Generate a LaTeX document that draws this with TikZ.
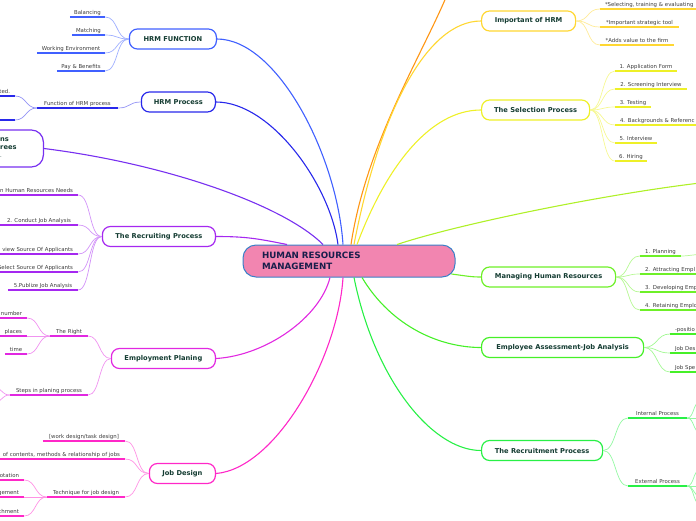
\documentclass[tikz,border=0pt]{standalone}
\usepackage{fontspec}
\setmainfont{DejaVu Sans}
\usetikzlibrary{calc}
\definecolor{rootfill}{RGB}{242,133,176}
\definecolor{rootline}{RGB}{58,128,200}
\definecolor{roottext}{RGB}{25,30,75}
\definecolor{topictext}{RGB}{20,60,50}
\definecolor{leaftext}{RGB}{60,60,60}
\definecolor{bfun}{RGB}{64,96,255}
\definecolor{bpro}{RGB}{40,40,235}
\definecolor{bvio}{RGB}{120,48,240}
\definecolor{bpur}{RGB}{165,40,240}
\definecolor{bmag}{RGB}{225,40,225}
\definecolor{bpnk}{RGB}{255,40,200}
\definecolor{bora}{RGB}{255,150,20}
\definecolor{bgld}{RGB}{255,215,50}
\definecolor{byel}{RGB}{238,240,40}
\definecolor{blim}{RGB}{175,240,40}
\definecolor{bgrn}{RGB}{110,240,40}
\definecolor{bgra}{RGB}{70,240,40}
\definecolor{bgrc}{RGB}{40,240,70}
\newcommand{\leaffont}{\fontsize{5.4}{6.5}\selectfont}
\newcommand{\topicfont}{\fontsize{6.7}{8}\selectfont\bfseries}
\newcommand{\rootfont}{\fontsize{8.7}{11}\selectfont\bfseries}
\tikzset{
rootbox/.style={draw=rootline,fill=rootfill,line width=1pt,rounded corners=13pt,
minimum width=212pt,minimum height=32pt,text width=174pt,inner xsep=19pt,inner ysep=0pt,
align=left,font=\rootfont,text=roottext},
topic/.style={draw=#1,fill=white,line width=1.2pt,rounded corners=8pt,minimum height=20pt,
inner sep=0pt,font=\topicfont,text=topictext},
leaf/.style={anchor=south,inner xsep=0pt,inner ysep=1.5pt,text height=4pt,text depth=1.3pt,
font=\leaffont,text=leaftext},
cutl/.style={align=left,inner xsep=5pt},
cutr/.style={align=right,inner xsep=5pt},
link/.style={draw=#1,line width=1.1pt},
ul/.style={draw=#1,line width=1.6pt},
twig/.style={draw=#1!50!white,line width=0.7pt}
}

\begin{document}
\begin{tikzpicture}[x=1pt,y=-1pt]
\useasboundingbox (0,0) rectangle (696,520);
\clip (0,0) rectangle (696,520);

% centre
\node[rootbox] (hrm) at (349,261) {HUMAN RESOURCES\\MANAGEMENT};
\coordinate (pFun) at ([xshift=-6pt]hrm.north);
\coordinate (pPro) at ([xshift=-11pt]hrm.north);
\coordinate (pBnd) at ([xshift=-26pt]hrm.north);
\coordinate (pRec) at ([xshift=-62pt]hrm.north);
\coordinate (pOra) at ([xshift=2pt]hrm.north);
\coordinate (pImp) at ([xshift=5pt]hrm.north);
\coordinate (pSel) at ([xshift=8pt]hrm.north);
\coordinate (pLim) at ([xshift=48pt]hrm.north);
\coordinate (pMan) at ([xshift=-4pt,yshift=-13pt]hrm.east);
\coordinate (pEmp) at ([xshift=-19pt]hrm.south);
\coordinate (pJob) at ([xshift=-6pt]hrm.south);
\coordinate (pRcm) at ([xshift=5pt]hrm.south);
\coordinate (pAss) at ([xshift=13pt]hrm.south);
\coordinate (offO) at (447,-5);
\coordinate (offL) at (700,183);

% main topics
\node[topic=bfun,minimum width=87pt,anchor=east] (fun) at (217,39) {HRM FUNCTION};
\node[topic=bpro,minimum width=74pt,anchor=east] (pro) at (216,102) {HRM Process};
\node[topic=bvio,minimum width=90pt,minimum height=37pt,rounded corners=12pt,anchor=east] (bnd) at (44,148.5) {};
\node[anchor=west,align=left,inner sep=0pt,font=\topicfont,text=topictext] (bndtxt) at (0,148) {ns\\rees\\{\leaffont\mdseries .}};
\node[topic=bpur,minimum width=113pt,anchor=east] (rec) at (216,236.5) {The Recruiting Process};
\node[topic=bmag,minimum width=104pt,anchor=east] (emp) at (216,358.5) {Employment Planing};
\node[topic=bpnk,minimum width=66pt,anchor=east] (job) at (216,473.5) {Job Design};
\node[topic=bgld,minimum width=94pt,anchor=west] (imp) at (481,21) {Important of HRM};
\node[topic=byel,minimum width=108pt,anchor=west] (sel) at (481,110) {The Selection Process};
\node[topic=bgrn,minimum width=134pt,anchor=west] (man) at (481,277) {Managing Human Resources};
\node[topic=bgra,minimum width=162pt,anchor=west] (ass) at (481,347.5) {Employee Assessment-Job Analysis};
\node[topic=bgrc,minimum width=121pt,anchor=west] (rcm) at (481,450.5) {The Recruitment Process};

% links to the centre
\draw[link=bfun] (fun.east) .. controls ($(fun.east)+(60,0)$) and ($(pFun)+(-6,-90)$) .. (pFun);
\draw[link=bpro] (pro.east) .. controls ($(pro.east)+(55,0)$) and ($(pPro)+(-8,-60)$) .. (pPro);
\draw[link=bvio] (bnd.east) .. controls ($(bnd.east)+(120,15)$) and ($(pBnd)+(-40,-40)$) .. (pBnd);
\draw[link=bpur] (rec.east) .. controls ($(rec.east)+(30,0)$) and ($(pRec)+(-30,-6)$) .. (pRec);
\draw[link=bmag] (emp.east) .. controls ($(emp.east)+(50,-3)$) and ($(pEmp)+(-10,40)$) .. (pEmp);
\draw[link=bpnk] (job.east) .. controls ($(job.east)+(60,-5)$) and ($(pJob)+(-5,80)$) .. (pJob);
\draw[link=bora] (pOra) .. controls ($(pOra)+(15,-100)$) and ($(offO)+(-25,60)$) .. (offO);
\draw[link=bgld] (pImp) .. controls ($(pImp)+(25,-130)$) and ($(imp.west)+(-55,0)$) .. (imp.west);
\draw[link=byel] (pSel) .. controls ($(pSel)+(30,-80)$) and ($(sel.west)+(-50,0)$) .. (sel.west);
\draw[link=blim] (pLim) .. controls ($(pLim)+(60,-20)$) and ($(offL)+(-100,12)$) .. (offL);
\draw[link=bgrn] (pMan) .. controls ($(pMan)+(15,2)$) and ($(man.west)+(-10,0)$) .. (man.west);
\draw[link=bgra] (pAss) .. controls ($(pAss)+(30,50)$) and ($(ass.west)+(-40,0)$) .. (ass.west);
\draw[link=bgrc] (pRcm) .. controls ($(pRcm)+(20,100)$) and ($(rcm.west)+(-50,0)$) .. (rcm.west);

% left leaves
\node[leaf,minimum width=35pt] (bal) at (87.5,17) {Balancing};
\node[leaf,minimum width=33pt] (mat) at (88.5,35) {Matching};
\node[leaf,minimum width=68pt] (wor) at (71,53) {Working Environment};
\node[leaf,minimum width=48pt] (pay) at (81,71) {Pay \& Benefits};
\node[leaf,minimum width=81pt] (fhp) at (77.5,108) {Function of HRM process};
\node[leaf,cutr,text width=45pt] (ted) at (-12.5,96) {ted.};
\node[leaf,minimum width=55pt] (tdx) at (-12.5,120) {};
\node[leaf,cutr,text width=128pt] (rc1) at (9,195) {n Human Resources Needs};
\node[leaf,minimum width=78pt] (rc2) at (39,225) {2. Conduct Job Analysis};
\node[leaf,cutr,text width=128pt] (rc3) at (9,254) {view Source Of Applicants};
\node[leaf,cutr,text width=128pt] (rc4) at (9,272) {Select Source Of Applicants};
\node[leaf,minimum width=70pt] (rc5) at (43,290) {5.Publize Job Analysis};
\node[leaf,minimum width=38pt] (rig) at (69,336) {The Right};
\node[leaf,cutr,text width=57pt] (num) at (-6.5,318) {number};
\node[leaf,cutr,text width=57pt] (pla) at (-6.5,336) {places};
\node[leaf,minimum width=22pt] (tim) at (16,354) {time};
\node[leaf,minimum width=78pt] (stp) at (49,395) {Steps in planing process};
\coordinate (st1) at (-8,386);
\coordinate (st2) at (-8,404);
\node[leaf,minimum width=82pt] (wds) at (84,441) {[work design/task design]};
\node[leaf,cutr,text width=175pt] (spc) at (32.5,459) {of contents, methods \& relationship of jobs};
\node[leaf,minimum width=78pt] (tec) at (86,497) {Technique for job design};
\node[leaf,cutr,text width=54pt] (rot) at (-8,480) {otation};
\node[leaf,cutr,text width=54pt] (enl) at (-8,497) {gement};
\node[leaf,cutr,text width=54pt] (enr) at (-8,516) {chment};

% right leaves
\node[leaf,cutl,text width=110pt] (iv1) at (660,9) {*Selecting, training \& evaluating};
\node[leaf,minimum width=79pt] (iv2) at (639.5,27) {*Important strategic tool};
\node[leaf,minimum width=74pt] (iv3) at (637,45) {*Adds value to the firm};
\node[leaf,minimum width=62pt] (sp1) at (646,71) {1. Application Form};
\node[leaf,minimum width=72pt] (sp2) at (651,89) {2. Screening Interview};
\node[leaf,minimum width=36pt] (sp3) at (633,107) {3. Testing};
\node[leaf,cutl,text width=105pt] (sp4) at (672.5,125) {4. Backgrounds \& Referenc};
\node[leaf,minimum width=42pt] (sp5) at (636,143) {5. Interview};
\node[leaf,minimum width=32pt] (sp6) at (631,161) {6. Hiring};
\node[leaf,minimum width=41pt] (mh1) at (660.5,256) {1. Planning};
\node[leaf,cutl,text width=90pt] (mh2) at (690,274) {2. Attracting Empl};
\node[leaf,cutl,text width=90pt] (mh3) at (690,292) {3. Developing Emp};
\node[leaf,cutl,text width=90pt] (mh4) at (690,310) {4. Retaining Emplo};
\coordinate (mhx) at (705,254);
\node[leaf,cutl,text width=50pt] (ja1) at (700,334) {-positio};
\node[leaf,cutl,text width=50pt] (ja2) at (700,353) {Job Des};
\node[leaf,cutl,text width=50pt] (ja3) at (700,372) {Job Spe};
\node[leaf,minimum width=59pt] (inp) at (657.5,418) {Internal Process};
\node[leaf,minimum width=59pt] (exp) at (657.5,486) {External Process};
\coordinate (in1) at (700,402);
\coordinate (in2) at (700,418);
\coordinate (in3) at (700,432);
\coordinate (ex1) at (700,470);
\coordinate (ex2) at (700,486);
\coordinate (ex3) at (700,496);
\coordinate (ex4) at (700,504);

% underlines
\foreach \n in {bal,mat,wor,pay} \draw[ul=bfun] (\n.south west) -- (\n.south east);
\foreach \n in {fhp,ted,tdx} \draw[ul=bpro] (\n.south west) -- (\n.south east);
\foreach \n in {rc1,rc2,rc3,rc4,rc5} \draw[ul=bpur] (\n.south west) -- (\n.south east);
\foreach \n in {rig,num,pla,tim,stp} \draw[ul=bmag] (\n.south west) -- (\n.south east);
\foreach \n in {wds,spc,tec,rot,enl,enr} \draw[ul=bpnk] (\n.south west) -- (\n.south east);
\foreach \n in {iv1,iv2,iv3} \draw[ul=bgld] (\n.south west) -- (\n.south east);
\foreach \n in {sp1,sp2,sp3,sp4,sp5,sp6} \draw[ul=byel] (\n.south west) -- (\n.south east);
\foreach \n in {mh1,mh2,mh3,mh4} \draw[ul=bgrn] (\n.south west) -- (\n.south east);
\foreach \n in {ja1,ja2,ja3} \draw[ul=bgra] (\n.south west) -- (\n.south east);
\foreach \n in {inp,exp} \draw[ul=bgrc] (\n.south west) -- (\n.south east);

% twigs, left side
\foreach \n in {bal,mat,wor,pay}
  \draw[twig=bfun] (fun.west) .. controls ($(fun.west)+(-13,0)$) and ($(\n.south east)+(13,0)$) .. (\n.south east);
\draw[twig=bpro] (pro.west) .. controls ($(pro.west)+(-12,0)$) and ($(fhp.south east)+(12,0)$) .. (fhp.south east);
\foreach \n in {ted,tdx}
  \draw[twig=bpro] (fhp.south west) .. controls ($(fhp.south west)+(-11,0)$) and ($(\n.south east)+(11,0)$) .. (\n.south east);
\foreach \n in {rc1,rc2,rc3,rc4,rc5}
  \draw[twig=bpur] (rec.west) .. controls ($(rec.west)+(-13,0)$) and ($(\n.south east)+(13,0)$) .. (\n.south east);
\foreach \n in {rig,stp}
  \draw[twig=bmag] (emp.west) .. controls ($(emp.west)+(-12,0)$) and ($(\n.south east)+(12,0)$) .. (\n.south east);
\foreach \n in {num,pla,tim}
  \draw[twig=bmag] (rig.south west) .. controls ($(rig.south west)+(-12,0)$) and ($(\n.south east)+(12,0)$) .. (\n.south east);
\foreach \n in {st1,st2}
  \draw[twig=bmag] (stp.south west) .. controls ($(stp.south west)+(-9,0)$) and ($(\n)+(9,0)$) .. (\n);
\foreach \n in {wds,spc,tec}
  \draw[twig=bpnk] (job.west) .. controls ($(job.west)+(-13,0)$) and ($(\n.south east)+(13,0)$) .. (\n.south east);
\foreach \n in {rot,enl,enr}
  \draw[twig=bpnk] (tec.south west) .. controls ($(tec.south west)+(-12,0)$) and ($(\n.south east)+(12,0)$) .. (\n.south east);

% twigs, right side
\foreach \n in {iv1,iv2,iv3}
  \draw[twig=bgld] (imp.east) .. controls ($(imp.east)+(13,0)$) and ($(\n.south west)+(-13,0)$) .. (\n.south west);
\foreach \n in {sp1,sp2,sp3,sp4,sp5,sp6}
  \draw[twig=byel] (sel.east) .. controls ($(sel.east)+(13,0)$) and ($(\n.south west)+(-13,0)$) .. (\n.south west);
\foreach \n in {mh1,mh2,mh3,mh4}
  \draw[twig=bgrn] (man.east) .. controls ($(man.east)+(13,0)$) and ($(\n.south west)+(-13,0)$) .. (\n.south west);
\draw[twig=bgrn] (mh1.south east) .. controls ($(mh1.south east)+(8,0)$) and ($(mhx)+(-8,0)$) .. (mhx);
\foreach \n in {ja1,ja2,ja3}
  \draw[twig=bgra] (ass.east) .. controls ($(ass.east)+(13,0)$) and ($(\n.south west)+(-13,0)$) .. (\n.south west);
\foreach \n in {inp,exp}
  \draw[twig=bgrc] (rcm.east) .. controls ($(rcm.east)+(13,0)$) and ($(\n.south west)+(-13,0)$) .. (\n.south west);
\foreach \n in {in1,in2,in3}
  \draw[twig=bgrc] (inp.south east) .. controls ($(inp.south east)+(7,0)$) and ($(\n)+(-7,0)$) .. (\n);
\foreach \n in {ex1,ex2,ex3,ex4}
  \draw[twig=bgrc] (exp.south east) .. controls ($(exp.south east)+(7,0)$) and ($(\n)+(-7,0)$) .. (\n);
\end{tikzpicture}
\end{document}
